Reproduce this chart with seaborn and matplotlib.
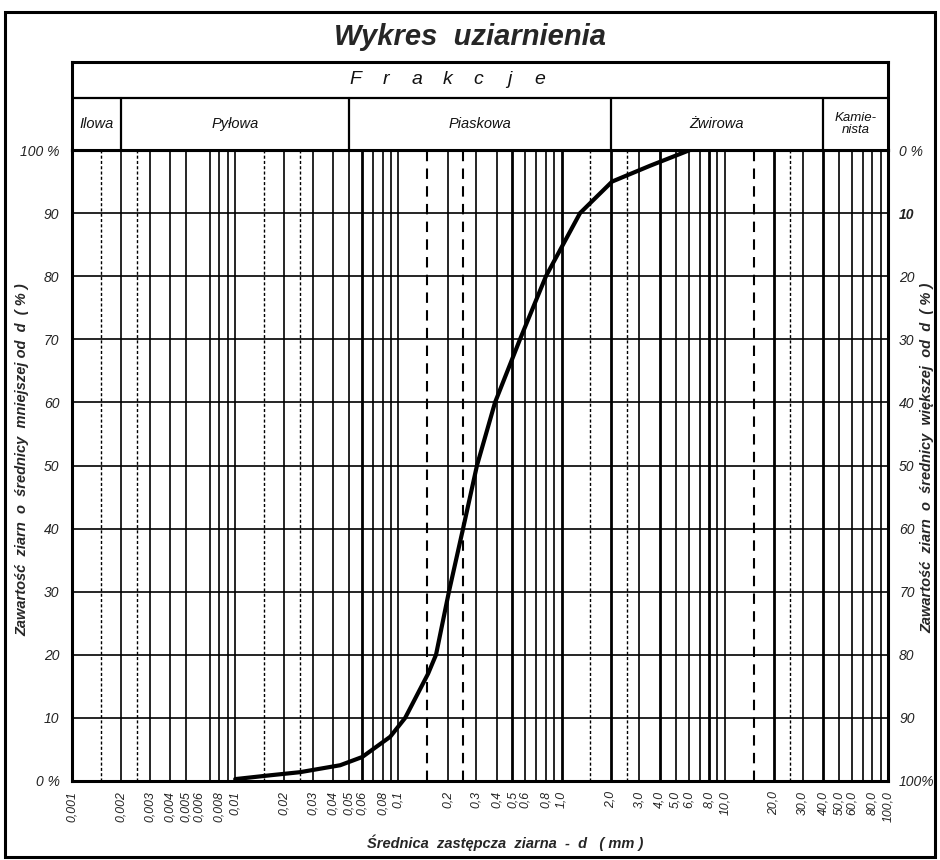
import numpy as np
import pandas as pd
import matplotlib
matplotlib.use("Agg")
import matplotlib.pyplot as plt
import seaborn as sns
from matplotlib.patches import Rectangle

# ---------------- data ----------------
diam_mm = [0.0100, 0.0163, 0.025, 0.044, 0.060, 0.089, 0.110, 0.152, 0.170,
           0.204, 0.249, 0.303, 0.391, 0.556, 0.802, 1.297, 2.04, 3.48, 6.12]
passing_pct = [0.3, 0.9, 1.4, 2.5, 3.8, 7.0, 10.0, 17.0, 20.0,
               30.0, 40.0, 50.0, 60.0, 70.0, 80.0, 90.0, 95.0, 97.5, 100.0]

xtick_values = [0.001, 0.002, 0.003, 0.004, 0.005, 0.006, 0.008, 0.01,
                0.02, 0.03, 0.04, 0.05, 0.06, 0.08, 0.1,
                0.2, 0.3, 0.4, 0.5, 0.6, 0.8, 1.0,
                2.0, 3.0, 4.0, 5.0, 6.0, 8.0, 10.0,
                20.0, 30.0, 40.0, 50.0, 60.0, 80.0, 100.0]
xtick_labels = ["0,001", "0,002", "0,003", "0,004", "0,005", "0,006", "0,008", "0,01",
                "0,02", "0,03", "0,04", "0,05", "0,06", "0,08", "0,1",
                "0,2", "0,3", "0,4", "0,5", "0,6", "0,8", "1,0",
                "2,0", "3,0", "4,0", "5,0", "6,0", "8,0", "10,0",
                "20,0", "30,0", "40,0", "50,0", "60,0", "80,0", "100,0"]

ytick_values = [0, 10, 20, 30, 40, 50, 60, 70, 80, 90, 100]
left_labels = ["0 %", "10", "20", "30", "40", "50", "60", "70", "80", "90", "100 %"]
right_labels = ["0 %", "10", "20", "30", "40", "50", "60", "70", "80", "90", "100%"]

# vertical grid lines (mm)
grid_solid = [0.002, 0.003, 0.004, 0.005, 0.007, 0.008, 0.009, 0.01,
              0.02, 0.03, 0.04, 0.05, 0.07, 0.08, 0.09, 0.1,
              0.2, 0.3, 0.4, 0.6, 0.7, 0.8, 0.9,
              3.0, 5.0, 6.0, 7.0, 9.0, 10.0,
              30.0, 50.0, 60.0, 70.0, 80.0, 90.0]
grid_thick = [0.06, 0.5, 1.0, 2.0, 4.0, 8.0, 20.0, 40.0]
grid_fine_dashed = [0.0015, 0.0025, 0.015, 0.025, 1.5, 2.5, 25.0]
grid_long_dashed = [0.15, 0.25, 15.0]

fraction_names = ["Ilowa", "Pyłowa", "Piaskowa", "Żwirowa", "Kamie-\nnista"]
fraction_bounds = [0.001, 0.002, 0.05, 2.0, 40.0, 100.0]

title_text = "Wykres  uziarnienia"
header_letters = list("Frakcje")
xlabel_text = "Średnica  zastępcza  ziarna  -  d   ( mm )"
ylabel_left = "Zawartość  ziarn  o  średnicy  mniejszej od  d  ( % )"
ylabel_right = "Zawartość  ziarn  o  średnicy  większej  od  d  ( % )"

# ---------------- style ----------------
sns.set_theme(style="white")
plt.rcParams["font.family"] = ["Liberation Sans", "DejaVu Sans"]
plt.rcParams["font.style"] = "italic"

W, H = 940, 860
fig = plt.figure(figsize=(W / 100, H / 100), dpi=100)
fig.patch.set_facecolor("white")

def fx(px):
    return px / W

def fy(py):
    return 1 - py / H

ax_l, ax_r, ax_t, ax_b = 72, 888, 150, 781
ax = fig.add_axes([fx(ax_l), fy(ax_b), fx(ax_r - ax_l), (ax_b - ax_t) / H])

XMIN, XMAX = 0.001, 100.0
ax.set_xscale("log")
ax.set_xlim(XMIN, XMAX)
ax.set_ylim(0, 100)

# grid lines
for v in grid_solid:
    ax.axvline(v, color="black", lw=1.2, zorder=1)
for v in grid_thick:
    ax.axvline(v, color="black", lw=2.0, zorder=1)
for v in grid_fine_dashed:
    ax.axvline(v, color="black", lw=1.0, ls=(0, (2.2, 1.6)), zorder=1)
for v in grid_long_dashed:
    ax.axvline(v, color="black", lw=1.5, ls=(0, (5, 3.5)), zorder=1)
for v in ytick_values[1:-1]:
    ax.axhline(v, color="black", lw=1.2, zorder=1)

# curve
df = pd.DataFrame({"d": diam_mm, "p": passing_pct})
sns.lineplot(data=df, x="d", y="p", ax=ax, color="black", linewidth=3.0,
             zorder=3, estimator=None)

for s in ax.spines.values():
    s.set_visible(True)
    s.set_linewidth(2.2)
    s.set_color("black")

ax.set_xticks(xtick_values)
ax.set_xticklabels(xtick_labels, rotation=90, fontsize=8.8, style="italic")
ax.xaxis.set_minor_locator(matplotlib.ticker.NullLocator())
ax.tick_params(axis="x", length=0, pad=7, colors="#222222")
ax.set_yticks(ytick_values)
ax.set_yticklabels(left_labels, fontsize=10, style="italic")
ax.tick_params(axis="y", length=0, pad=9, colors="#222222")
ax.set_xlabel("")
ax.set_ylabel("")
ax.grid(False)

ax2 = ax.twinx()
ax2.set_ylim(100, 0)
ax2.set_yticks(ytick_values)
ax2.set_yticklabels(right_labels, fontsize=10, style="italic")
ax2.tick_params(axis="y", length=0, pad=8, colors="#222222")
for lab in ax2.get_yticklabels():
    if lab.get_text() == "10":
        lab.set_fontweight("bold")
for s in ax2.spines.values():
    s.set_visible(False)
ax2.grid(False)

# header (fractions table)
hd_top, hd_split = 62, 98
axh = fig.add_axes([fx(ax_l), fy(ax_t), fx(ax_r - ax_l), (ax_t - hd_top) / H])
axh.set_xscale("log")
axh.set_xlim(XMIN, XMAX)
axh.set_ylim(0, 1)
split = (ax_t - hd_split) / (ax_t - hd_top)
axh.axhline(split, color="black", lw=1.6)
for b in fraction_bounds[1:-1]:
    axh.plot([b, b], [0, split], color="black", lw=1.6)
for i, name in enumerate(fraction_names):
    xc = np.sqrt(fraction_bounds[i] * fraction_bounds[i + 1])
    fs = 9.5 if "\n" in name else 10.5
    axh.text(xc, split / 2, name, ha="center", va="center", fontsize=fs,
             style="italic", linespacing=0.95, color="#111111")
axh.set_xticks([])
axh.set_yticks([])
axh.xaxis.set_minor_locator(matplotlib.ticker.NullLocator())
for s in axh.spines.values():
    s.set_visible(True)
    s.set_linewidth(2.2)
    s.set_color("black")

for px, letter in zip(np.linspace(355, 540, len(header_letters)), header_letters):
    fig.text(fx(px), fy(80), letter, ha="center", va="center", fontsize=14,
             style="italic", color="#111111")

# titles and labels
fig.text(fx(470), fy(37), title_text, ha="center", va="center",
         fontsize=21, fontweight="bold", style="italic")
fig.text(fx(505), fy(843), xlabel_text, ha="center", va="center",
         fontsize=10.5, fontweight="bold", style="italic")
fig.text(fx(22), fy(460), ylabel_left, ha="center", va="center", rotation=90,
         fontsize=10.5, fontweight="bold", style="italic")
fig.text(fx(927), fy(458), ylabel_right, ha="center", va="center", rotation=90,
         fontsize=10.5, fontweight="bold", style="italic")

# outer frame
fig.patches.append(Rectangle((fx(5), fy(857)), fx(930), (857 - 12) / H,
                             transform=fig.transFigure, fill=False,
                             edgecolor="black", lw=2.2))

fig.savefig("out.png", dpi=100, facecolor="white")
